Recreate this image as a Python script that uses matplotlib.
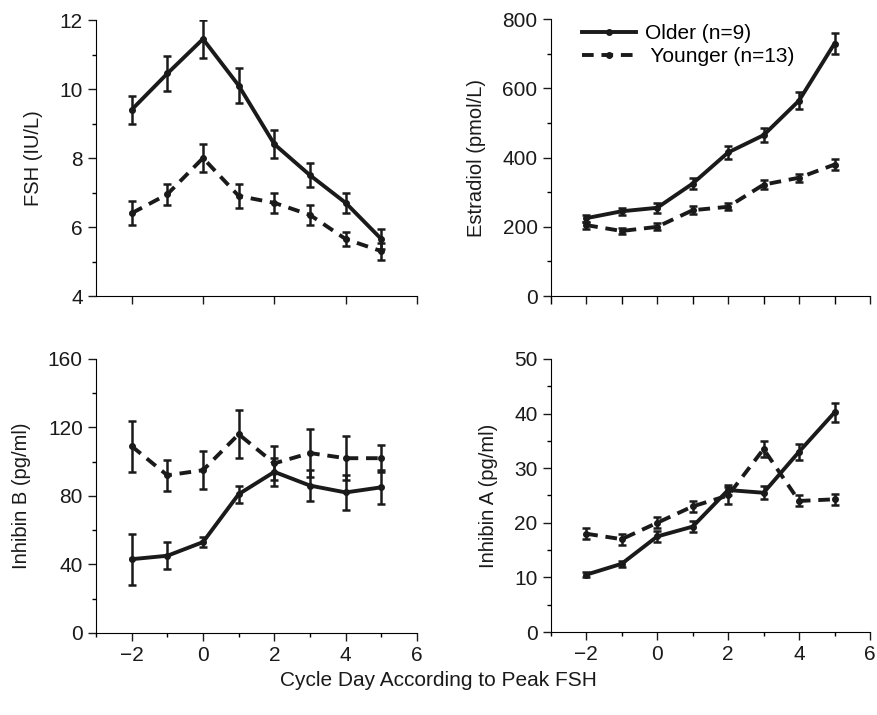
import matplotlib.pyplot as plt
from matplotlib.lines import Line2D
from matplotlib.ticker import MultipleLocator

plt.rcParams['font.family'] = ['Liberation Sans', 'DejaVu Sans']

days = [-2, -1, 0, 1, 2, 3, 4, 5]

fsh_old = [9.4, 10.45, 11.45, 10.1, 8.4, 7.5, 6.7, 5.65]
fsh_old_err = [0.4, 0.5, 0.55, 0.5, 0.4, 0.35, 0.3, 0.3]
fsh_young = [6.4, 6.95, 8.0, 6.9, 6.7, 6.35, 5.65, 5.3]
fsh_young_err = [0.35, 0.3, 0.4, 0.35, 0.3, 0.3, 0.2, 0.25]

e2_old = [225, 245, 255, 325, 415, 465, 565, 730]
e2_old_err = [10, 10, 15, 15, 20, 20, 25, 30]
e2_young = [205, 188, 200, 248, 258, 322, 342, 380]
e2_young_err = [10, 8, 10, 12, 10, 12, 12, 15]

inhb_old = [43, 45, 53, 81, 94, 86, 82, 85]
inhb_old_err = [15, 8, 3, 5, 8, 9, 10, 10]
inhb_young = [109, 92, 95, 116, 99, 105, 102, 102]
inhb_young_err = [15, 9, 11, 14, 10, 14, 13, 8]

inha_old = [10.5, 12.5, 17.5, 19.3, 26, 25.5, 33, 40.2]
inha_old_err = [0.5, 0.5, 1, 1, 1, 1.2, 1.5, 1.8]
inha_young = [18, 17, 20, 23, 25, 33.5, 24, 24.3]
inha_young_err = [1, 1, 1, 1, 1.5, 1.5, 1, 1]

ink = '#1a1a1a'
dash = (0, (3, 2))

fig = plt.figure(figsize=(8.77, 7.15), dpi=100)

ax1 = fig.add_axes([0.1095, 0.586, 0.366, 0.386])
ax2 = fig.add_axes([0.628, 0.586, 0.364, 0.387])
ax3 = fig.add_axes([0.1095, 0.115, 0.366, 0.383])
ax4 = fig.add_axes([0.628, 0.116, 0.364, 0.382])

panels = [
    (ax1, fsh_old, fsh_old_err, fsh_young, fsh_young_err, 'FSH (IU/L)', (4, 12), 2, 1),
    (ax2, e2_old, e2_old_err, e2_young, e2_young_err, 'Estradiol (pmol/L)', (0, 800), 200, 100),
    (ax3, inhb_old, inhb_old_err, inhb_young, inhb_young_err, 'Inhibin B (pg/ml)', (0, 160), 40, 20),
    (ax4, inha_old, inha_old_err, inha_young, inha_young_err, 'Inhibin A (pg/ml)', (0, 50), 10, 5),
]

for ax, old, old_err, young, young_err, ylab, ylim, major, minor in panels:
    ax.errorbar(days, old, yerr=old_err, color=ink, lw=2.8, marker='o', ms=4,
                capsize=3, elinewidth=1.8, capthick=1.8)
    ax.errorbar(days, young, yerr=young_err, color=ink, lw=2.8, marker='o', ms=4,
                capsize=3, elinewidth=1.8, capthick=1.8, linestyle=dash)
    ax.set_xlim(-3, 6)
    ax.set_ylim(*ylim)
    ax.yaxis.set_major_locator(MultipleLocator(major))
    ax.yaxis.set_minor_locator(MultipleLocator(minor))
    ax.xaxis.set_major_locator(MultipleLocator(2))
    ax.xaxis.set_minor_locator(MultipleLocator(1))
    ax.set_ylabel(ylab, fontsize=14.5, color=ink, labelpad=12)
    ax.spines['top'].set_visible(False)
    ax.spines['right'].set_visible(False)
    ax.tick_params(axis='both', which='major', labelsize=15, length=6, width=1, colors=ink)
    ax.tick_params(axis='y', which='minor', length=3, width=1)
    ax.tick_params(axis='x', which='minor', length=3, width=1)

# top row: no x tick labels
ax1.tick_params(axis='x', labelbottom=False)
ax1.tick_params(axis='x', which='minor', length=0)
ax2.tick_params(axis='x', labelbottom=False)
ax2.tick_params(axis='x', which='minor', length=6)

handles = [Line2D([], [], color=ink, lw=2.8, marker='o', ms=4),
           Line2D([], [], color=ink, lw=2.8, marker='o', ms=4, linestyle=dash)]
ax2.legend(handles, ['Older (n=9)', ' Younger (n=13)'], loc='upper left',
           bbox_to_anchor=(0.04, 1.05), frameon=False, fontsize=15,
           handlelength=2.6, handletextpad=0.4, labelspacing=0.2)

fig.text(0.5, 0.04, 'Cycle Day According to Peak FSH', ha='center', fontsize=15, color=ink)

plt.savefig('out.png', dpi=100)
